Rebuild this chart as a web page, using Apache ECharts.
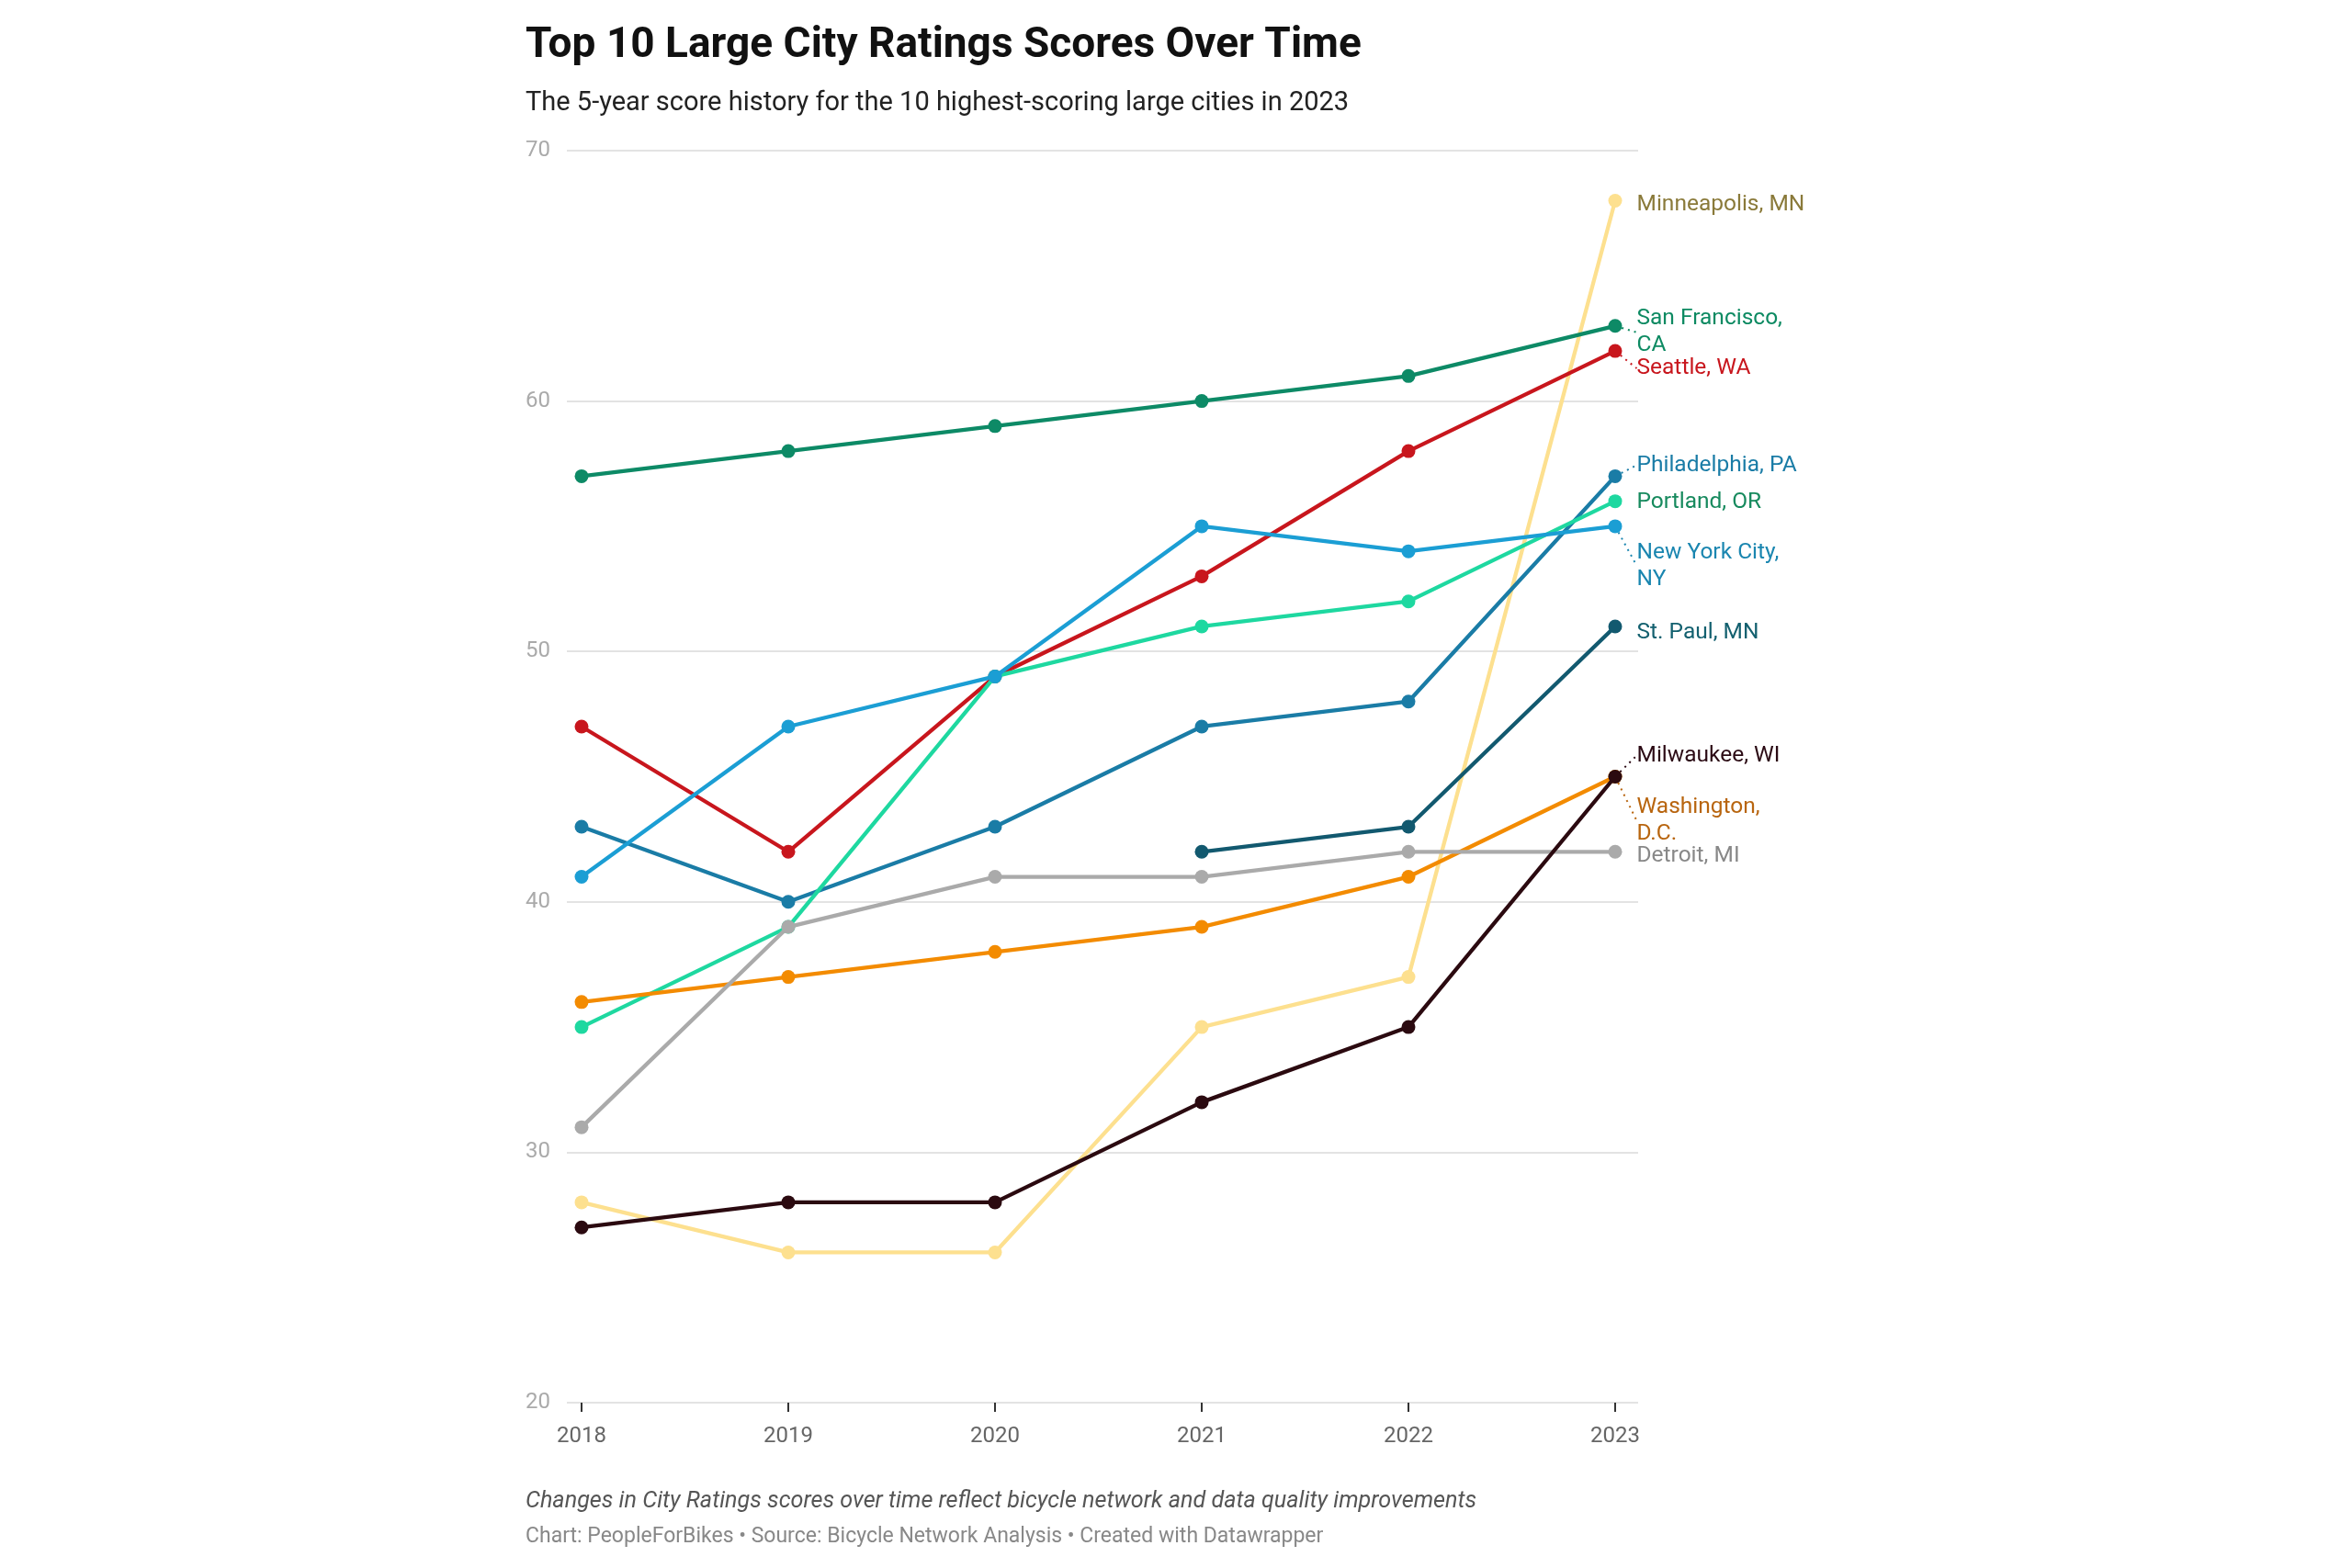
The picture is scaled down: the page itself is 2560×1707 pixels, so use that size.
<!DOCTYPE html>
<html>
<head>
<meta charset="utf-8">
<script src="https://cdn.jsdelivr.net/npm/echarts@6/dist/echarts.min.js"></script>
<style>
html,body{margin:0;padding:0;background:#fff;}
#chart{width:2560px;height:1707px;}
</style>
</head>
<body>
<div id="chart"></div>
<script>
// ---- data ----
const years = [2018, 2019, 2020, 2021, 2022, 2023];
const yTicks = [20, 30, 40, 50, 60, 70];

const minneapolis   = [28, 26, 26, 35, 37, 68];
const sanFrancisco  = [57, 58, 59, 60, 61, 63];
const seattle       = [47, 42, 49, 53, 58, 62];
const philadelphia  = [43, 40, 43, 47, 48, 57];
const portland      = [35, 39, 49, 51, 52, 56];
const newYork       = [41, 47, 49, 55, 54, 55];
const stPaul        = [null, null, null, 42, 43, 51];
const washington    = [36, 37, 38, 39, 41, 45];
const detroit       = [31, 39, 41, 41, 42, 42];
const milwaukee     = [27, 28, 28, 32, 35, 45];

const cityNames = ['Minneapolis, MN','San Francisco, CA','Seattle, WA','Philadelphia, PA','Portland, OR','New York City, NY','St. Paul, MN','Washington, D.C.','Detroit, MI','Milwaukee, WI'];
const cityLabels = ['Minneapolis, MN','San Francisco,\nCA','Seattle, WA','Philadelphia, PA','Portland, OR','New York City,\nNY','St. Paul, MN','Washington,\nD.C.','Detroit, MI','Milwaukee, WI'];
const cityValues = [minneapolis, sanFrancisco, seattle, philadelphia, portland, newYork, stPaul, washington, detroit, milwaukee];

// ---- styles ----
const lineColors  = ['#fde08f','#0d8a66','#c8161d','#1a7ca6','#1ed8a0','#1b9ed4','#12596f','#f38b00','#aaaaaa','#2b0a10'];
const labelColors = ['#8a7a3a','#0d8a62','#c8161d','#1a7ca6','#178a5e','#1a86b0','#13606f','#b8650f','#888888','#2b0a14'];
const labelDy     = [4, 7, 19, -12, 1, 43, 7, 48, 5, -23];
const leader      = [false, true, true, true, false, true, false, true, false, true];

const FONT = 'Roboto';

const series = cityValues.map((vals, si) => {
  const data = [];
  let lastIdx = -1;
  vals.forEach((v, i) => { if (v != null) lastIdx = i; });
  vals.forEach((v, i) => {
    if (v == null) return;
    if (i === lastIdx) {
      data.push({
        value: [years[i], v],
        label: {
          show: true,
          position: 'right',
          distance: 16,
          formatter: cityLabels[si],
          color: labelColors[si],
          fontFamily: FONT,
          fontSize: 24.5,
          lineHeight: 29,
          align: 'left'
        },
        labelLine: {
          show: leader[si],
          lineStyle: { color: labelColors[si], type: [2, 5], width: 2 }
        }
      });
    } else {
      data.push([years[i], v]);
    }
  });
  return {
    name: cityNames[si],
    type: 'line',
    data: data,
    symbol: 'circle',
    symbolSize: 15,
    showSymbol: true,
    animation: false,
    lineStyle: { color: lineColors[si], width: 4.3 },
    itemStyle: { color: lineColors[si] },
    labelLayout: { dy: labelDy[si] },
    emphasis: { disabled: true },
    z: 2 + si
  };
});

const chart = echarts.init(document.getElementById('chart'), null, { renderer: 'canvas' });
chart.setOption({
  backgroundColor: '#ffffff',
  animation: false,
  title: [
    { text: 'Top 10 Large City Ratings Scores Over Time', left: 572, top: 27, padding: 0,
      textStyle: { fontFamily: FONT, fontWeight: 'bold', fontSize: 46, color: '#111' } },
    { text: 'The 5-year score history for the 10 highest-scoring large cities in 2023', left: 572, top: 98, padding: 0,
      textStyle: { fontFamily: FONT, fontWeight: 'normal', fontSize: 29, color: '#222' } },
    { text: 'Changes in City Ratings scores over time reflect bicycle network and data quality improvements', left: 572, top: 1622, padding: 0,
      textStyle: { fontFamily: FONT, fontWeight: 'normal', fontStyle: 'italic', fontSize: 25.2, color: '#555' } },
    { text: 'Chart: PeopleForBikes \u2022 Source: Bicycle Network Analysis \u2022 Created with Datawrapper', left: 572, top: 1662, padding: 0,
      textStyle: { fontFamily: FONT, fontWeight: 'normal', fontSize: 23, color: '#888' } }
  ],
  grid: { left: 617, top: 164, width: 1166, height: 1363, containLabel: false },
  xAxis: {
    type: 'value',
    min: 2018 - 16 / 225,
    max: 2023 + 25 / 225,
    splitLine: { show: false },
    axisLine: { show: false },
    axisTick: { show: true, customValues: years, length: 10, lineStyle: { color: '#333', width: 2 } },
    axisLabel: { customValues: years, margin: 25, fontFamily: FONT, fontSize: 24, color: '#666',
      formatter: v => String(v) }
  },
  yAxis: {
    type: 'value',
    min: 20,
    max: 70,
    interval: 10,
    axisLine: { show: false },
    axisTick: { show: false },
    splitLine: { show: true, lineStyle: { color: '#e3e3e3', width: 2 } },
    axisLabel: { align: 'left', margin: 45, fontFamily: FONT, fontSize: 24, color: '#aaaaaa',
      formatter: v => yTicks.includes(v) ? String(v) : '' }
  },
  series: series
});
</script>
</body>
</html>
